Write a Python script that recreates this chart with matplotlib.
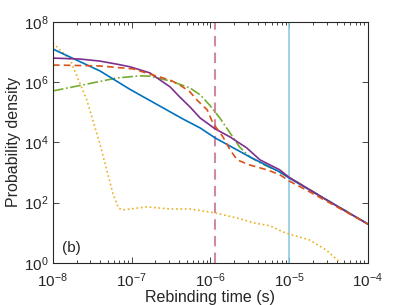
import numpy as np
import matplotlib
matplotlib.use('Agg')
import matplotlib.pyplot as plt
from matplotlib.ticker import LogLocator, NullFormatter, FixedLocator

plt.rcParams['font.family'] = ['Liberation Sans', 'DejaVu Sans']
plt.rcParams['mathtext.fontset'] = 'custom'
plt.rcParams['mathtext.rm'] = 'Liberation Sans'

# log10 of time (s) and log10 of probability density
blue_t = [-8.0, -7.4, -7.02, -6.35, -6.13, -5.94, -5.50, -5.12, -5.0, -4.0]
blue_p = [7.10, 6.37, 5.76, 4.78, 4.48, 4.15, 3.52, 3.02, 2.82, 1.29]

purple_t = [-8.0, -7.66, -7.40, -7.15, -7.02, -6.77, -6.51, -6.39, -6.26, -6.13,
            -5.94, -5.75, -5.54, -5.37, -5.12, -5.0, -4.5, -4.0]
purple_p = [6.80, 6.77, 6.70, 6.58, 6.51, 6.31, 5.84, 5.51, 5.18, 4.81,
            4.45, 4.18, 3.82, 3.42, 3.09, 2.84, 2.05, 1.29]

orange_t = [-8.0, -7.40, -6.98, -6.77, -6.51, -6.39, -6.26, -6.16, -6.04, -5.97,
            -5.84, -5.75, -5.66, -5.50, -5.28, -5.12, -5.0, -4.74, -4.0]
orange_p = [6.57, 6.54, 6.44, 6.27, 6.07, 5.91, 5.68, 5.38, 5.08, 4.65,
            4.18, 3.75, 3.42, 3.25, 3.09, 2.93, 2.72, 2.36, 1.29]

green_t = [-8.0, -7.62, -7.19, -6.90, -6.77, -6.51, -6.26, -6.13, -6.01, -5.88,
           -5.75, -5.63, -5.50, -5.37, -5.12, -5.0, -4.5, -4.0]
green_p = [5.71, 5.91, 6.14, 6.21, 6.20, 6.04, 5.81, 5.58, 5.24, 4.81,
           4.31, 3.85, 3.52, 3.32, 3.02, 2.84, 2.06, 1.29]

yellow_t = [-8.0, -7.78, -7.57, -7.40, -7.24, -7.17, -7.12, -7.02, -6.81, -6.51,
            -6.26, -5.94, -5.66, -5.45, -5.24, -5.08, -5.0, -4.74, -4.53, -4.36]
yellow_p = [7.30, 6.74, 5.41, 3.92, 2.32, 1.83, 1.76, 1.79, 1.86, 1.79,
            1.79, 1.66, 1.49, 1.33, 1.23, 1.03, 0.96, 0.76, 0.43, 0.03]

t_mark = 1.16e-6
t_ref = 1e-5

fig = plt.figure(figsize=(4.07, 3.05), dpi=100)
ax = fig.add_axes([0.130, 0.138, 0.774, 0.790])

ax.axvline(t_mark, color='#d08a9e', lw=1.5, ls=(0, (5, 3)))
ax.axvline(t_ref, color='#8ecbe8', lw=1.2)

ax.plot(10**np.array(yellow_t), 10**np.array(yellow_p), color='#EDB120', lw=1.2, ls=':')
ax.plot(10**np.array(green_t), 10**np.array(green_p), color='#77AC30', lw=1.2, ls='-.')
ax.plot(10**np.array(blue_t), 10**np.array(blue_p), color='#0072BD', lw=1.2)
ax.plot(10**np.array(purple_t), 10**np.array(purple_p), color='#7E2F8E', lw=1.2)
ax.plot(10**np.array(orange_t), 10**np.array(orange_p), color='#D95319', lw=1.2, ls=(0, (4, 2.5)))

ax.set_xscale('log')
ax.set_yscale('log')
ax.set_xlim(1e-8, 1e-4)
ax.set_ylim(1e0, 1e8)
ax.yaxis.set_major_locator(FixedLocator([1e0, 1e2, 1e4, 1e6, 1e8]))
ax.yaxis.set_minor_locator(FixedLocator([]))
ax.xaxis.set_minor_locator(LogLocator(base=10, subs=np.arange(2, 10)))
ax.xaxis.set_minor_formatter(NullFormatter())

for s in ax.spines.values():
    s.set_color('#262626')
    s.set_linewidth(0.8)
ax.tick_params(which='both', direction='in', top=True, right=True, colors='#262626',
               labelsize=11, width=0.6)
ax.tick_params(which='major', length=4)
ax.tick_params(which='minor', length=2)
ax.tick_params(axis='x', which='major', pad=6)
ax.tick_params(axis='y', which='major', pad=3)

ax.set_xlabel('Rebinding time (s)', fontsize=11.5, color='#262626', labelpad=0)
ax.set_ylabel('Probability density', fontsize=11.5, color='#262626', labelpad=2)
ax.text(0.03, 0.045, '(b)', transform=ax.transAxes, fontsize=11, color='#262626')

fig.savefig('out.png', dpi=100)
